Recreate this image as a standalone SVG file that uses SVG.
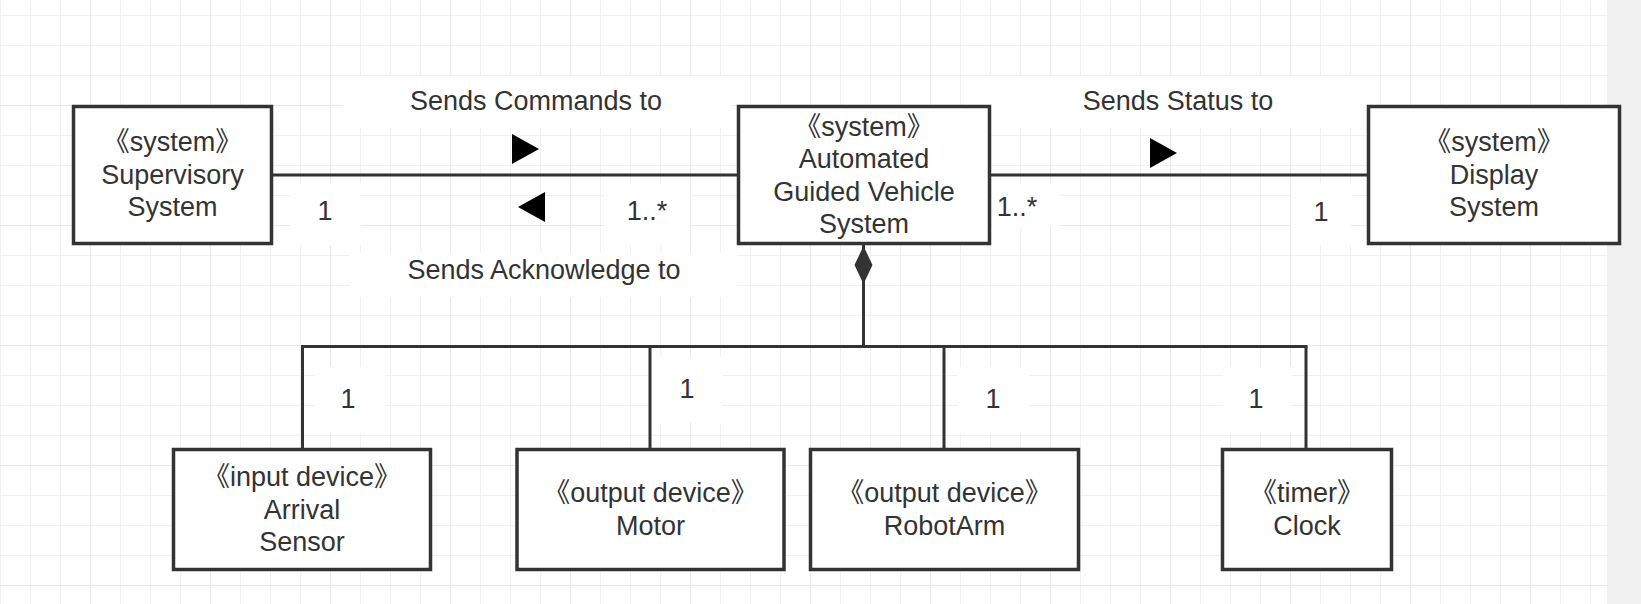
<svg xmlns="http://www.w3.org/2000/svg" width="1641" height="604" viewBox="0 0 1641 604">
<defs>
<pattern id="minor" width="30" height="30" patternUnits="userSpaceOnUse" x="0" y="15">
<path d="M0 0H30M0 0V30" stroke="#f1f1f1" stroke-width="2" fill="none"/>
</pattern>
<pattern id="major" width="120" height="120" patternUnits="userSpaceOnUse" x="90" y="105">
<path d="M0 0H120M0 0V120" stroke="#e9e9e9" stroke-width="2" fill="none"/>
</pattern>
</defs>
<style>
.box{fill:#fff;stroke:#333;stroke-width:3.5}
.ln{stroke:#333;stroke-width:3;fill:none}
.bg{fill:#fff}
text{font-family:"Liberation Sans","Noto Sans CJK SC",sans-serif;font-size:27px;fill:#333;text-anchor:middle;dominant-baseline:central}
.arr{fill:#000}
</style>
<rect width="1641" height="604" fill="#fff"/>
<rect width="1607" height="604" fill="url(#minor)"/>
<rect width="1607" height="604" fill="url(#major)"/>
<rect x="1607" y="0" width="34" height="604" fill="#f1f1f1"/>

<g id="label-backgrounds">
<rect class="bg" x="343" y="76" width="387" height="52"/>
<rect class="bg" x="350" y="253" width="387" height="44"/>
<rect class="bg" x="290" y="183" width="71" height="62"/>
<rect class="bg" x="604" y="183" width="86" height="62"/>
<rect class="bg" x="985" y="76" width="389" height="52"/>
<rect class="bg" x="992" y="183" width="68" height="44"/>
<rect class="bg" x="1291" y="183" width="60" height="62"/>
<rect class="bg" x="315" y="367" width="70" height="66"/>
<rect class="bg" x="652" y="357" width="70" height="66"/>
<rect class="bg" x="958" y="367" width="72" height="66"/>
<rect class="bg" x="1223" y="367" width="68" height="66"/>
</g>

<g id="connectors">
<line class="ln" x1="273" y1="175" x2="738" y2="175"/>
<line class="ln" x1="989" y1="175" x2="1368" y2="175"/>
<line class="ln" x1="863.5" y1="245" x2="863.5" y2="346.5"/>
<line class="ln" x1="301" y1="346.5" x2="1307.5" y2="346.5"/>
<line class="ln" x1="302.5" y1="346.5" x2="302.5" y2="449"/>
<line class="ln" x1="650" y1="346.5" x2="650" y2="449"/>
<line class="ln" x1="944" y1="346.5" x2="944" y2="449"/>
<line class="ln" x1="1306" y1="346.5" x2="1306" y2="449"/>
<path d="M863.5 246 L872.5 265 L863.5 284 L854.5 265 Z" fill="#333"/>
<path class="arr" d="M512 134 L539 149 L512 164 Z"/>
<path class="arr" d="M545 192 L518 207 L545 222 Z"/>
<path class="arr" d="M1150 138 L1177 153 L1150 168 Z"/>
<text x="536" y="101">Sends Commands to</text>
<text x="544" y="270">Sends Acknowledge to</text>
<text x="1178" y="101">Sends Status to</text>
<text x="325" y="211">1</text>
<text x="647" y="211">1..*</text>
<text x="1017" y="207">1..*</text>
<text x="1321" y="212">1</text>
<text x="348" y="399">1</text>
<text x="687" y="389">1</text>
<text x="993" y="399">1</text>
<text x="1256" y="399">1</text>
</g>

<g id="supervisory">
<rect class="box" x="73.5" y="106.5" width="198" height="137"/>
<text x="172.5" y="142">《system》</text>
<text x="172.5" y="175">Supervisory</text>
<text x="172.5" y="207">System</text>
</g>
<g id="agv">
<rect class="box" x="738.5" y="106.5" width="251" height="137"/>
<text x="864" y="126.5">《system》</text>
<text x="864" y="159">Automated</text>
<text x="864" y="191.5">Guided Vehicle</text>
<text x="864" y="224">System</text>
</g>
<g id="display">
<rect class="box" x="1368.5" y="106.5" width="251" height="137"/>
<text x="1494" y="142">《system》</text>
<text x="1494" y="175">Display</text>
<text x="1494" y="207">System</text>
</g>
<g id="arrival">
<rect class="box" x="173.5" y="449.5" width="257" height="120"/>
<text x="302" y="477">《input device》</text>
<text x="302" y="510">Arrival</text>
<text x="302" y="542">Sensor</text>
</g>
<g id="motor">
<rect class="box" x="517" y="449.5" width="267" height="120"/>
<text x="650.5" y="493">《output device》</text>
<text x="650.5" y="525.5">Motor</text>
</g>
<g id="robotarm">
<rect class="box" x="810.5" y="449.5" width="268" height="120"/>
<text x="944.5" y="493">《output device》</text>
<text x="944.5" y="525.5">RobotArm</text>
</g>
<g id="clock">
<rect class="box" x="1222.5" y="449.5" width="169" height="120"/>
<text x="1307" y="493">《timer》</text>
<text x="1307" y="525.5">Clock</text>
</g>
</svg>
